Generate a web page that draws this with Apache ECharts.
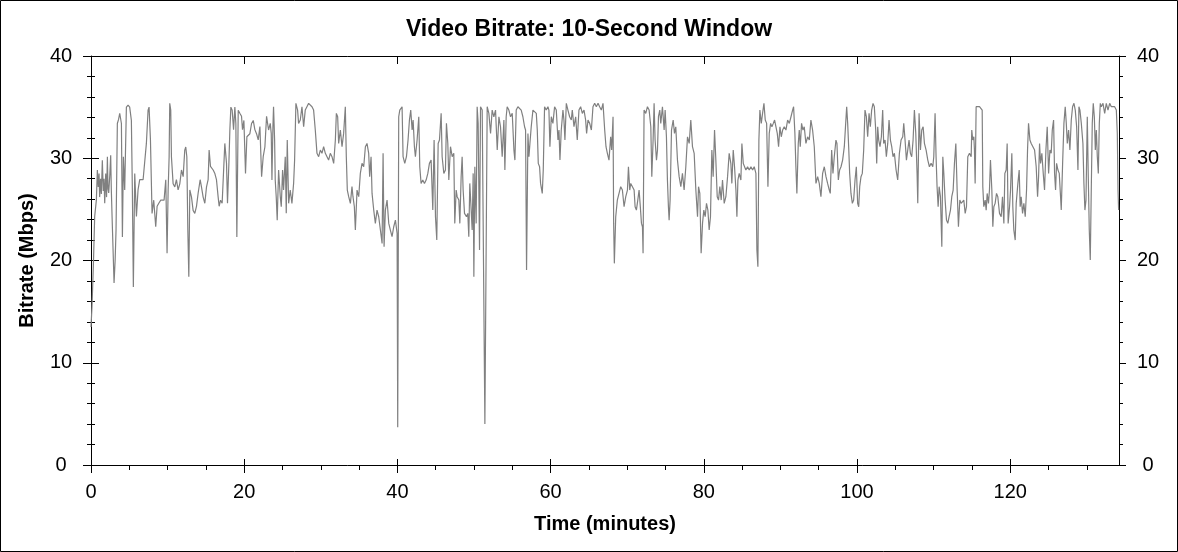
<!DOCTYPE html>
<html>
<head>
<meta charset="utf-8">
<script src="https://cdn.jsdelivr.net/npm/echarts@6.0.0/dist/echarts.min.js"></script>
<style>
html,body{margin:0;padding:0;background:#fff;}
#chart{width:1178px;height:552px;}
</style>
</head>
<body>
<div id="chart"></div>
<script>
// ---- Data ----
const timeMin = [
0,0.13,0.31,0.48,0.70,0.83,0.95,1.05,1.13,1.25,1.35,1.48,1.60,1.70,1.79,1.92,2.03,2.14,2.22,2.31,2.45,2.57,2.65,2.75,3.01,3.15,3.27,3.44,3.60,3.75,3.97,4.10,4.23,4.40,4.62,4.84,5.05,5.27,5.40,5.53,5.71,5.93,6.14,6.36,6.58,6.80,7.02,7.23,7.45,7.58,7.76,7.97,8.19,8.45,8.63,8.85,9.11,9.28,9.54,9.76,9.93,10.07,10.20,10.28,10.41,10.50,10.72,10.94,11.15,11.37,11.59,11.81,12.03,12.24,12.37,12.51,12.64,12.77,12.90,13.12,13.33,13.55,13.77,13.99,14.25,14.42,14.64,14.86,15.08,15.29,15.42,15.60,15.95,16.17,16.38,16.60,16.73,16.91,17.12,17.34,17.47,17.69,17.82,18.00,18.13,18.26,18.43,18.61,18.78,18.91,19.04,19.22,19.43,19.65,19.78,19.96,20.17,20.35,20.52,20.74,20.96,21.18,21.39,21.61,21.83,22.05,22.27,22.48,22.70,22.92,23.14,
23.18,23.40,23.53,23.62,23.75,23.83,23.97,24.05,24.18,24.31,24.49,24.71,24.84,25.01,25.14,25.36,25.49,25.62,25.80,26.01,26.23,26.45,26.58,26.75,26.97,27.10,27.32,27.54,27.76,27.97,28.19,28.41,28.63,28.85,29.06,29.28,29.50,29.72,29.94,30.15,30.37,30.59,30.81,31.02,31.24,31.46,31.68,31.90,32.03,32.20,32.33,32.55,32.77,32.98,33.20,33.33,33.46,33.64,33.86,34.07,34.20,34.38,34.51,34.73,34.95,35.16,35.38,35.60,35.82,36.03,36.25,36.38,36.56,36.69,36.91,37.12,37.34,37.56,37.78,38.00,38.13,38.26,38.43,38.65,38.87,39.08,39.30,39.52,39.74,39.96,40.04,40.17,40.31,40.52,40.61,40.74,40.96,41.18,41.39,41.57,41.74,41.92,42.05,42.22,42.35,42.57,42.79,42.92,43.09,43.31,43.53,43.75,43.97,44.18,44.40,44.62,44.79,44.97,45.14,45.32,45.49,45.71,45.84,46.06,
46.27,46.40,46.58,46.71,46.93,47.15,47.36,47.49,47.67,47.80,48.02,48.15,48.32,48.45,48.58,48.76,49.02,49.19,49.32,49.45,49.63,49.76,49.89,49.98,50.11,50.28,50.41,50.54,50.72,50.85,51.07,51.42,51.72,51.94,52.16,52.37,52.59,52.81,53.03,53.25,53.46,53.68,53.90,54.03,54.20,54.33,54.55,54.77,54.99,55.21,55.34,55.51,55.73,55.95,56.16,56.38,56.60,56.73,56.86,57.04,57.17,57.30,57.47,57.69,57.91,58.13,58.26,58.39,58.56,58.69,58.91,59.04,59.21,59.43,59.65,59.78,59.91,60.09,60.30,60.52,60.74,60.96,61.09,61.22,61.39,61.61,61.74,61.87,62.05,62.26,62.48,62.70,62.83,63.05,63.27,63.48,63.70,63.92,64.14,64.36,64.57,64.70,64.88,65.10,65.32,65.53,65.75,65.97,66.19,66.40,66.62,66.84,67.06,67.23,67.41,67.62,67.84,67.97,68.15,68.23,68.32,68.50,68.71,68.93,69.15,
69.37,69.59,69.81,70.03,70.16,70.33,70.46,70.68,70.90,71.03,71.20,71.38,71.55,71.68,71.86,71.99,72.07,72.20,72.42,72.64,72.86,73.08,73.21,73.38,73.51,73.64,73.82,73.95,74.08,74.25,74.38,74.60,74.82,74.95,75.12,75.25,75.38,75.47,75.60,75.78,76.00,76.17,76.34,76.56,76.78,77.00,77.21,77.43,77.65,77.87,78.09,78.30,78.52,78.74,78.96,79.18,79.31,79.48,79.65,79.83,80.00,80.18,80.35,80.53,80.70,80.87,81.05,81.22,81.40,81.57,81.75,81.92,82.09,82.27,82.44,82.66,82.88,83.10,83.31,83.53,83.66,83.84,84.01,84.19,84.32,84.45,84.62,84.84,84.97,85.15,85.32,85.49,85.71,85.93,86.15,86.37,86.58,86.80,86.93,87.06,87.19,87.32,87.50,87.67,87.85,88.02,88.20,88.37,88.54,88.72,88.89,89.07,89.24,89.42,89.59,89.76,89.94,90.11,90.29,90.50,90.72,90.94,91.16,91.38,91.59,
91.72,91.89,92.02,92.15,92.33,92.46,92.59,92.76,92.94,93.11,93.33,93.55,93.77,93.98,94.20,94.42,94.64,94.86,95.07,95.29,95.51,95.73,95.95,96.16,96.38,96.51,96.69,96.86,97.03,97.25,97.38,97.56,97.73,97.91,98.12,98.34,98.47,98.65,98.78,98.91,99.04,99.21,99.39,99.56,99.74,99.91,100.08,100.22,100.35,100.52,100.69,100.87,101.04,101.22,101.39,101.57,101.74,101.91,102.09,102.26,102.44,102.57,102.70,102.83,103.00,103.18,103.35,103.48,103.66,103.83,104.01,104.18,104.36,104.53,104.70,104.88,105.10,105.31,105.53,105.75,105.97,106.10,106.27,106.45,106.62,106.79,106.97,107.14,107.32,107.49,107.67,107.84,107.93,108.10,108.28,108.45,108.63,108.80,109.02,109.24,109.45,109.67,109.89,110.02,110.19,110.32,110.45,110.59,110.72,110.89,111.07,111.20,111.33,111.50,111.68,111.85,112.02,112.20,112.37,112.55,112.72,112.90,113.07,113.24,113.42,113.59,113.77,113.94,114.12,114.29,114.46,114.68,114.90,
114.98,115.11,115.25,115.33,115.42,115.55,115.77,115.99,116.20,116.34,116.42,116.55,116.73,116.86,116.99,117.16,117.29,117.42,117.60,117.73,117.86,118.03,118.21,118.38,118.60,118.82,118.99,119.17,119.30,119.47,119.60,119.73,119.91,120.04,120.21,120.34,120.47,120.65,120.78,121.00,121.17,121.30,121.43,121.61,121.78,121.96,122.13,122.26,122.39,122.57,122.74,122.96,123.18,123.39,123.57,123.70,123.83,123.96,124.13,124.31,124.48,124.66,124.83,125.01,125.18,125.35,125.49,125.66,125.79,125.92,126.05,126.23,126.40,126.57,126.66,126.84,127.01,127.18,127.32,127.45,127.62,127.79,127.97,128.14,128.32,128.49,128.67,128.84,128.97,129.10,129.28,129.49,129.62,129.75,129.89,130.06,130.19,130.32,130.45,130.58,130.71,130.84,130.98,131.11,131.24,131.37,131.50,131.63,131.76,131.89,132.11,132.33,132.54,132.76,132.98,133.20,133.42,133.63,133.85,133.98,134.07,134.15
];
const bitrateMbps = [
13.5,15.5,19.5,24.3,25.9,28.85,27.2,28.5,26.2,28.0,26.5,29.8,26.8,28.0,25.6,28.5,26.2,30.15,27.0,26.6,28.3,30.3,27.0,24.3,17.8,20.0,23.0,33.4,33.8,34.4,33.4,22.3,30.15,26.9,35.0,35.2,35.0,33.7,26.9,17.4,28.5,24.3,26.9,27.9,28.0,27.9,27.9,31.45,34.7,35.0,31.8,24.6,25.9,23.3,25.3,25.6,25.9,25.9,25.9,27.9,20.7,26.9,30.15,35.37,34.7,30.15,27.5,27.2,27.9,26.9,27.5,28.85,28.2,30.8,31.1,30.15,23.0,18.4,26.9,26.2,24.9,24.6,25.3,26.6,27.9,27.2,26.2,25.6,27.2,27.9,30.8,29.2,28.85,28.5,27.9,26.2,25.3,25.9,25.6,25.6,31.45,29.5,25.6,29.5,32.8,35.0,34.7,32.8,35.0,33.4,22.3,34.7,34.4,34.1,32.8,33.7,28.5,32.1,32.1,32.4,33.4,33.7,32.8,32.4,31.8,33.1,28.2,30.15,31.1,34.1,34.1,
32.76,33.41,32.43,27.87,33.08,35.04,31.78,27.87,26.24,23.95,28.85,26.24,25.26,28.85,26.89,30.15,24.61,31.78,25.59,26.89,25.59,27.54,29.82,35.37,34.71,33.41,33.74,35.04,33.08,34.71,35.04,35.37,35.37,35.04,34.71,32.76,30.48,30.15,30.8,30.48,31.13,30.48,30.15,29.82,30.48,30.15,29.5,31.78,34.39,34.06,31.45,32.76,31.13,32.43,35.04,30.15,26.89,26.24,25.59,27.22,26.24,25.26,22.98,26.89,26.24,28.52,29.5,29.17,31.13,31.45,30.48,28.2,30.15,26.56,24.93,23.63,24.93,24.28,22.98,21.67,30.48,21.35,24.93,25.91,23.63,22.98,22.33,23.3,23.95,22.65,3.7,34.06,34.71,34.71,35.04,30.15,29.5,30.15,31.78,33.74,34.71,32.76,33.74,31.13,30.15,31.78,34.06,29.17,27.54,27.87,27.54,27.87,28.52,29.5,29.82,24.93,31.78,24.28,22.0,31.45,31.78,34.39,30.15,28.52,
28.85,33.41,31.45,27.87,31.13,30.15,30.48,23.63,26.89,26.24,25.91,23.63,28.2,30.15,26.89,24.61,24.28,24.61,22.33,27.54,24.93,22.98,28.52,18.41,29.17,23.63,35.04,33.41,21.02,35.04,34.71,4.0,35.04,34.39,32.43,34.71,34.06,34.71,30.8,34.06,33.08,30.15,33.74,28.85,34.06,35.04,34.71,34.06,34.39,30.8,29.82,34.71,35.04,35.04,34.71,34.06,33.08,32.76,19.07,32.43,30.15,31.45,33.08,34.71,34.71,34.39,32.76,29.5,29.17,27.54,26.56,28.85,35.04,34.71,35.04,34.71,31.13,34.06,33.41,35.04,34.71,31.78,32.76,29.82,32.76,34.71,33.74,31.78,35.37,34.71,34.06,33.74,34.71,33.08,34.06,31.78,34.71,35.04,34.39,34.71,33.74,32.43,33.74,33.41,32.76,35.04,35.37,35.04,35.37,35.04,34.71,35.37,32.76,31.13,30.48,29.82,32.1,30.8,34.06,23.63,19.72,24.28,25.91,26.56,27.22,
26.89,25.26,26.24,26.89,29.17,26.89,27.54,27.22,26.89,25.26,24.93,25.91,26.89,25.59,23.63,23.3,20.7,34.71,34.39,35.04,34.71,33.08,28.2,31.78,35.37,31.78,29.82,30.8,34.06,34.71,33.41,35.04,32.76,34.71,32.1,27.87,25.26,23.95,25.91,32.76,33.74,32.43,33.08,29.82,28.2,27.22,28.52,26.89,29.17,32.1,31.45,33.74,31.13,30.48,26.89,24.28,27.22,26.56,20.7,23.63,24.93,24.28,25.59,24.93,22.98,24.28,30.8,28.2,32.76,29.82,26.24,25.91,27.22,25.91,27.87,25.59,26.24,28.2,30.48,29.5,27.54,30.8,29.17,26.89,24.28,27.87,28.52,27.87,31.45,29.5,29.17,28.85,29.17,28.85,29.17,28.85,29.17,28.52,21.02,19.39,31.78,34.71,33.41,34.39,35.37,33.74,33.41,27.22,32.43,33.41,33.08,33.41,33.74,33.74,32.43,31.13,33.08,32.1,32.76,33.08,32.76,33.74,33.41,34.06,34.71,
35.04,32.43,29.17,26.56,31.45,32.76,31.13,33.41,32.76,33.08,31.45,32.1,31.78,33.74,32.76,31.13,27.54,28.2,27.54,26.24,28.52,29.17,28.2,27.54,26.89,26.56,30.8,28.52,30.15,31.78,31.45,27.87,28.85,29.17,29.82,31.13,32.76,35.04,33.41,31.13,28.52,26.56,25.59,25.91,27.87,29.17,25.59,25.26,27.22,28.2,28.52,30.8,34.71,34.06,32.1,34.39,33.08,34.71,35.37,35.04,32.76,29.5,33.08,31.78,31.13,32.1,34.71,31.45,31.78,30.15,31.45,33.74,31.78,31.13,30.15,30.48,28.85,27.87,30.48,31.78,32.1,33.41,31.78,29.82,30.8,31.78,30.48,30.15,31.78,34.71,32.43,28.52,25.59,34.39,30.8,32.76,33.08,31.45,30.8,29.82,29.17,29.5,29.17,30.15,34.39,30.15,27.22,25.26,27.22,26.24,21.35,30.15,28.52,25.91,23.95,23.63,24.28,24.93,26.24,26.89,29.5,31.45,26.89,23.3,25.91,25.59,25.59,25.91,24.61,25.26,30.15,30.48,30.15,
32.76,31.78,32.1,30.8,27.54,35.04,35.04,35.04,35.04,34.71,27.22,25.26,25.91,24.93,26.56,25.59,26.89,29.82,26.89,23.3,25.26,25.59,26.56,26.24,24.61,24.28,26.24,23.63,28.52,28.85,31.45,23.63,25.26,26.89,30.48,25.26,22.98,22.0,25.59,27.54,28.85,25.26,26.24,24.61,25.59,24.28,26.89,30.8,33.41,31.78,31.45,31.13,30.8,29.17,26.24,28.2,31.45,29.5,30.48,28.52,26.89,30.8,33.08,28.52,30.8,30.48,32.76,33.74,28.52,26.89,29.5,28.85,28.52,26.24,24.93,29.5,33.41,35.04,33.41,31.45,32.76,30.8,33.74,35.04,35.37,34.71,33.08,28.85,35.04,34.71,33.41,31.45,27.54,24.93,25.91,34.06,28.2,22.98,20.04,26.89,33.41,35.37,34.06,30.8,32.76,30.15,28.52,33.41,35.37,35.04,35.37,34.39,35.37,34.71,35.37,35.04,35.04,35.04,34.71,32.43,26.89,24.93
];
const xMajorTicks = [0, 20, 40, 60, 80, 100, 120];
const xMinorTicks = [0,5,10,15,20,25,30,35,40,45,50,55,60,65,70,75,80,85,90,95,100,105,110,115,120,125,130];
const yMajorTicks = [0, 10, 20, 30, 40];
const xMax = 134.2;
const titleText = 'Video Bitrate: 10-Second Window';
const xName = 'Time (minutes)';
const yName = 'Bitrate (Mbps)';

// ---- Chart ----
const FONT = '"Liberation Sans", Arial, sans-serif';
const seriesData = timeMin.map((t, i) => [t, bitrateMbps[i]]);
const black = '#000';

function xAx(extra) {
  return Object.assign({
    type: 'value', min: 0, max: xMax, interval: 20,
    splitLine: {show: false},
    axisLine: {show: false},
    axisTick: {show: false},
    axisLabel: {show: false}
  }, extra);
}
function yAx(extra) {
  return Object.assign({
    type: 'value', min: 0, max: 40, interval: 10,
    splitLine: {show: false},
    axisLine: {show: false},
    axisTick: {show: false},
    axisLabel: {show: false}
  }, extra);
}

const option = {
  animation: false,
  backgroundColor: '#fff',
  title: {
    text: titleText, left: 'center', top: 13,
    textStyle: {fontFamily: FONT, fontSize: 23, fontWeight: 'bold', color: black}
  },
  grid: {left: 91, right: 59, top: 56, bottom: 87, containLabel: false},
  graphic: [{
    type: 'rect', silent: true,
    shape: {x: 0.5, y: 0.5, width: 1177, height: 551},
    style: {fill: 'none', stroke: black, lineWidth: 1}
  }],
  xAxis: [
    xAx({
      position: 'bottom',
      name: xName, nameLocation: 'middle', nameGap: 49,
      nameTextStyle: {fontFamily: FONT, fontSize: 20, fontWeight: 'bold', color: black},
      axisLine: {show: true, onZero: false, lineStyle: {color: black, width: 1}},
      axisTick: {show: true, length: 8, customValues: xMajorTicks, lineStyle: {color: black}},
      axisLabel: {show: true, customValues: xMajorTicks, margin: 17,
        fontFamily: FONT, fontSize: 20, color: black,
        formatter: v => (xMajorTicks.indexOf(v) >= 0 ? String(v) : '')}
    }),
    xAx({position: 'bottom', axisTick: {show: true, inside: true, length: 6, customValues: xMajorTicks, lineStyle: {color: black}}}),
    xAx({position: 'bottom', interval: 5, axisTick: {show: true, length: 5, customValues: xMinorTicks, lineStyle: {color: black}}}),
    xAx({position: 'top',
      axisLine: {show: true, onZero: false, lineStyle: {color: black, width: 1}},
      axisTick: {show: true, inside: true, length: 8, customValues: xMajorTicks, lineStyle: {color: black}}}),
    xAx({position: 'top', interval: 5, axisTick: {show: true, inside: true, length: 5, customValues: xMinorTicks, lineStyle: {color: black}}})
  ],
  yAxis: [
    yAx({
      position: 'left',
      name: yName, nameLocation: 'middle', nameGap: 54,
      nameTextStyle: {fontFamily: FONT, fontSize: 20, fontWeight: 'bold', color: black},
      axisLine: {show: true, onZero: false, lineStyle: {color: black, width: 1}},
      axisTick: {show: true, length: 7, lineStyle: {color: black}},
      minorTick: {show: true, splitNumber: 5, length: 4, lineStyle: {color: black}},
      axisLabel: {show: true, margin: 30, align: 'center', fontFamily: FONT, fontSize: 20, color: black}
    }),
    yAx({position: 'left',
      axisTick: {show: true, inside: true, length: 8, lineStyle: {color: black}},
      minorTick: {show: true, splitNumber: 5, length: 4, lineStyle: {color: black}}}),
    yAx({position: 'right',
      axisLine: {show: true, onZero: false, lineStyle: {color: black, width: 1}},
      axisTick: {show: true, length: 7, lineStyle: {color: black}},
      minorTick: {show: true, splitNumber: 5, length: 4, lineStyle: {color: black}},
      axisLabel: {show: true, margin: 29, align: 'center', fontFamily: FONT, fontSize: 20, color: black}
    }),
    yAx({position: 'right',
      axisTick: {show: true, inside: true, length: 8, lineStyle: {color: black}},
      minorTick: {show: true, splitNumber: 5, length: 4, lineStyle: {color: black}}})
  ],
  series: [{
    type: 'line',
    xAxisIndex: 0, yAxisIndex: 0,
    data: seriesData,
    showSymbol: false,
    symbol: 'none',
    silent: true,
    lineStyle: {color: '#808080', width: 1.2},
    z: 1
  }]
};

const chart = echarts.init(document.getElementById('chart'), null, {renderer: 'canvas'});
chart.setOption(option);
</script>
</body>
</html>
